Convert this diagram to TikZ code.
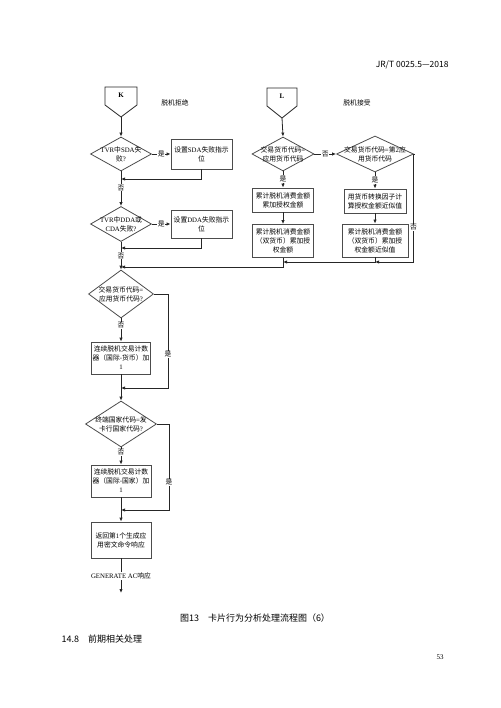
\documentclass[tikz,border=0pt]{standalone}
\usepackage{fontspec}
\setmainfont{Noto Sans CJK SC}
\newfontfamily\latin{Liberation Serif}
\newcommand\en[1]{{\latin #1}}
\usetikzlibrary{shapes.geometric,arrows.meta}
\def\pentagon#1{++(-#1,-8) -- ++(2*#1,0) -- ++(0,18) -- ++(-#1,12) -- ++(-#1,-12) -- cycle}
\tikzset{
    flow/.style={draw=black!85, line width=0.8pt},
    box/.style={flow, draw=black!70, rectangle, inner sep=1pt, align=center, font=\fontsize{6.8}{9}\selectfont},
    dia/.style={flow, draw=black!70, diamond, inner sep=0pt},
    txt/.style={font=\fontsize{6.8}{9}\selectfont, align=center, inner sep=1pt},
    tag/.style={font=\fontsize{6.8}{8}\selectfont, fill=white, inner sep=0.6pt},
    arr/.style={flow, -{Latex[length=4pt,width=3.4pt]}}
}

\begin{document}
\begin{tikzpicture}[x=1pt, y=-1pt]
    \useasboundingbox (0,0) rectangle (500,708);
    \node[anchor=east, font=\fontsize{8.5}{10}\selectfont] (hd) at (452,65) {JR/T 0025.5—2018};
    % offline declined
    \node[txt, font=\latin\bfseries\fontsize{7}{8}\selectfont] (K) at (121,95) {K};
    \draw[flow] (K.center) \pentagon{16};
    \coordinate (Kt) at (121,117);
    \node[txt] (kt) at (175,103) {脱机拒绝};
    \node[dia, minimum width=61pt, minimum height=34pt,
        label={[txt]center:{\en{TVR}中\en{SDA}失\\败\en{?}}}] (q1) at (121,154) {};
    \node[box, minimum width=61pt, minimum height=30pt] (b1) at (201.5,154) {设置\en{SDA}失败指示\\位};
    \node[dia, minimum width=61pt, minimum height=35pt,
        label={[txt]center:{\en{TVR}中\en{DDA}或\\\en{CDA}失败\en{?}}}] (q2) at (121,224) {};
    \node[box, minimum width=61pt, minimum height=28pt] (b2) at (201.5,224) {设置\en{DDA}失败指示\\位};
    \coordinate (r1) at (121,179);
    \coordinate (r2) at (121,248);
    % offline approved
    \node[txt, font=\latin\bfseries\fontsize{7}{8}\selectfont] (L) at (282,96) {L};
    \draw[flow] (L.center) \pentagon{15};
    \coordinate (Lt) at (282,118);
    \node[txt] (lt) at (357,103) {脱机接受};
    \node[dia, minimum width=62pt, minimum height=34pt,
        label={[txt]center:{交易货币代码\en{=}\\应用货币代码}}] (q3) at (283,154) {};
    \node[dia, minimum width=77pt, minimum height=36pt,
        label={[txt]center:{交易货币代码\en{=}第\en{2}应\\用货币代码}}] (q4) at (375,154) {};
    \node[box, minimum width=61pt, minimum height=24pt] (b3) at (283,200) {累计脱机消费金额\\累加授权金额};
    \node[box, minimum width=62pt, minimum height=24pt] (b4) at (375,201) {用货币转换因子计\\算授权金额近似值};
    \node[box, minimum width=61pt, minimum height=33pt] (b5) at (283,241) {累计脱机消费金额\\（双货币）累加授\\权金额};
    \node[box, minimum width=66pt, minimum height=33pt] (b6) at (375,240.5) {累计脱机消费金额\\（双货币）累加授\\权金额近似值};
    \coordinate (c1) at (413.5,262);
    \coordinate (j2) at (375,262);
    \coordinate (j3) at (283,262);
    \coordinate (j4) at (283,267);
    \coordinate (m1) at (121,267);
    % counters
    \node[dia, minimum width=65pt, minimum height=48pt,
        label={[txt]center:{交易货币代码\en{=}\\应用货币代码\en{?}}}] (q5) at (121,294) {};
    \node[box, minimum width=59pt, minimum height=32pt] (b7) at (121,358) {连续脱机交易计数\\器（国际-货币）加\\\en{1}};
    \node[dia, minimum width=71pt, minimum height=46pt,
        label={[txt]center:{终端国家代码\en{=}发\\卡行国家代码\en{?}}}] (q6) at (121,424) {};
    \node[box, minimum width=60pt, minimum height=32pt] (b8) at (121,481) {连续脱机交易计数\\器（国际-国家）加\\\en{1}};
    \node[box, minimum width=60pt, minimum height=36pt] (b9) at (121,540) {返回第\en{1}个生成应\\用密文命令响应};
    \node[txt] (ac) at (121,576) {\en{GENERATE AC}响应};
    \coordinate (c3) at (168,388);
    \coordinate (m2) at (121,388);
    \coordinate (c4) at (169,510);
    \coordinate (m3) at (121,510);
    \coordinate (end) at (121,593);

    \draw[arr] (Kt) -- (q1.north);
    \draw[arr] (q1.east) -- node[tag]{是} (b1.west);
    \draw[arr] (b1.south) |- (r1);
    \draw[arr] (q1.south) -- node[tag, pos=0.47]{否} (q2.north);
    \draw[arr] (q2.east) -- node[tag]{是} (b2.west);
    \draw[arr] (b2.south) |- (r2);
    \draw[arr] (q2.south) -- node[tag, pos=0.5]{否} (q5.north);

    \draw[arr] (Lt) -- (q3.north);
    \draw[arr] (q3.east) -- node[tag]{否} (q4.west);
    \draw[arr] (q3.south) -- node[tag, pos=0.47]{是} (b3.north);
    \draw[arr] (b3.south) -- (b5.north);
    \draw[arr] (q4.south) -- node[tag, pos=0.47]{是} (b4.north);
    \draw[arr] (b4.south) -- (b6.north);
    \draw[arr] (q4.east) -| node[tag, pos=0.84]{否} (c1) -- (j2);
    \draw[arr] (b6.south) -- (j2) -- (j3);
    \draw[arr] (b5.south) -- (j4) -- (m1);

    \draw[arr] (q5.south) -- node[tag, pos=0.3]{否} (b7.north);
    \draw[arr] (q5.east) -| node[tag, pos=0.82]{是} (c3) -- (m2);
    \draw[arr] (b7.south) -- (q6.north);
    \draw[arr] (q6.south) -- node[tag, pos=0.3]{否} (b8.north);
    \draw[arr] (q6.east) -| node[tag, pos=0.84]{是} (c4) -- (m3);
    \draw[arr] (b8.south) -- (b9.north);
    \draw[flow] (b9.south) -- (ac.north);
    \draw[arr] (ac.south) -- (end);

    \node[font=\fontsize{9}{11}\selectfont] (cap) at (255,618) {图13\quad 卡片行为分析处理流程图（6）};
    \node[anchor=west, font=\fontsize{9}{11}\selectfont] (sec) at (58,639) {14.8\quad 前期相关处理};
    \node[font=\latin\fontsize{7}{8}\selectfont] (pg) at (440,657) {53};
\end{tikzpicture}
\end{document}
